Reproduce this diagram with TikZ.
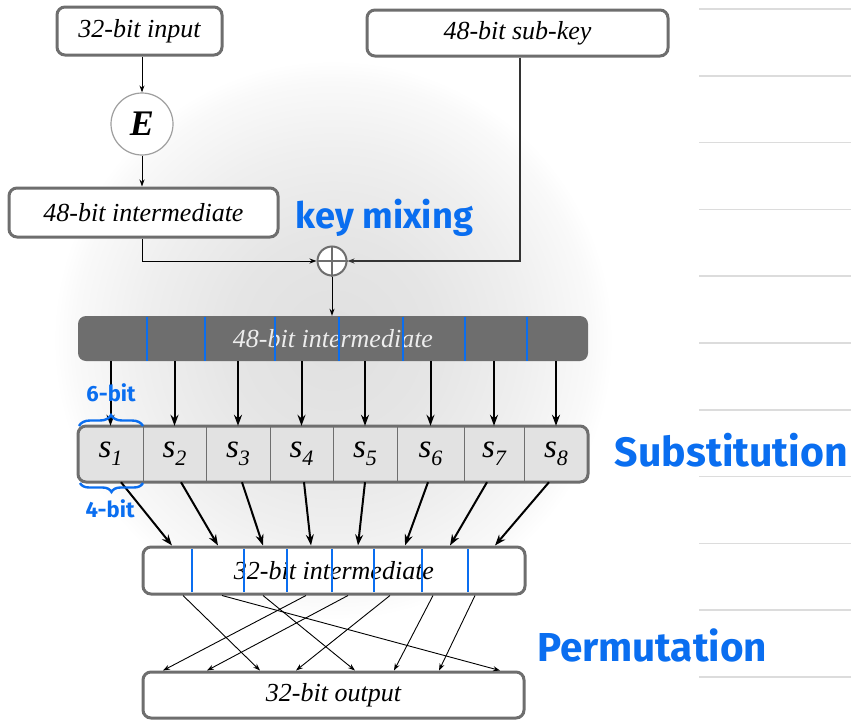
\documentclass[tikz,border=0pt]{standalone}
\usepackage{fontspec}
\setmainfont{Liberation Serif}
\newfontfamily\handfont{Fira Sans}
\usetikzlibrary{arrows.meta,decorations.pathreplacing,calc}
\definecolor{boxgray}{HTML}{6E6E6E}
\definecolor{annoblue}{RGB}{10,110,240}
\definecolor{rulegray}{HTML}{DCDCDC}
\definecolor{sfill}{HTML}{E2E2E2}
\definecolor{bga}{HTML}{E0E0E0}
\definecolor{bgb}{HTML}{E5E5E5}
\definecolor{bgc}{HTML}{EFEFEF}
\definecolor{bgd}{HTML}{F9F9F9}
\pgfdeclareradialshading{bgshade}{\pgfpoint{0bp}{0bp}}{color(0bp)=(bga); color(9bp)=(bgb); color(17bp)=(bgc); color(23bp)=(bgd); color(25bp)=(white); color(50bp)=(white)}
\newcommand\dboxfont{\fontsize{26}{30}\selectfont\itshape}
\newcommand\slabel[1]{{\fontsize{33}{33}\selectfont\itshape s}\raisebox{-8pt}{\fontsize{22}{22}\selectfont\itshape #1}}
\tikzset{
  box/.style={draw=boxgray, line width=3pt, rounded corners=8pt, fill=white, font=\dboxfont, inner sep=0pt},
  thinarrow/.style={-{Stealth[length=7pt,width=5pt]}, line width=1pt, black},
  thickarrow/.style={-{Stealth[length=11pt,width=8pt]}, line width=2pt, black},
  permarrow/.style={-{Stealth[length=7pt,width=5pt]}, line width=0.9pt, black},
  bluediv/.style={annoblue, line width=1.6pt},
  sdiv/.style={boxgray, line width=1pt},
  rulestyle/.style={rulegray, line width=1.5pt},
  annot/.style={annoblue, inner sep=0pt},
  cell/.style={minimum height=56pt, inner sep=0pt},
}
\begin{document}
\begin{tikzpicture}[x=1pt,y=-1pt]
\useasboundingbox (0,0) rectangle (851,720);
\fill[white] (0,0) rectangle (851,720);
\shade[shading=bgshade] (333,340) circle[radius=280pt];
% right rules
\foreach \k in {0,...,10}{
  \draw[rulestyle] (699,{9+66.8*\k}) -- (851,{9+66.8*\k});
}
% top boxes
\node[box, minimum width=165pt, minimum height=48pt] (in) at (139.5,31) {32-bit input};
\node[box, minimum width=301pt, minimum height=46pt] (key) at (517.5,33) {48-bit sub-key};
\node[circle, draw=gray!75, line width=1.2pt, fill=white, minimum size=62pt, inner sep=0pt,
      font=\fontsize{36}{36}\selectfont\bfseries\itshape] (E) at (142,124) {E};
\node[box, minimum width=269pt, minimum height=49pt] (i48) at (143.5,212.5) {48-bit intermediate};
\node[circle, draw=boxgray, line width=2pt, fill=white, minimum size=29pt, inner sep=0pt] (xor) at (332,261) {};
\draw[boxgray, line width=1.2pt] (xor.north) -- (xor.south) (xor.west) -- (xor.east);
% connectors top
\draw[thinarrow] (E.north |- in.south) -- (E.north);
\draw[thinarrow] (E.south) -- (E.south |- i48.north);
\draw[thinarrow] (E.south |- i48.south) |- (xor.west);
\draw[thinarrow, draw=gray!40!black, line width=1.5pt] ([xshift=2.5pt]key.south) |- (xor.east);
% dark bar
\node[rounded corners=8pt, fill=boxgray, minimum width=510pt, minimum height=45pt, inner sep=0pt,
      font=\dboxfont, text=white!93!black] (bar) at (333,338.5) {48-bit intermediate};
\draw[thinarrow] (xor.south) -- (xor.south |- bar.north);
\foreach \x in {147,205,275,339,403,465,527}{
  \draw[bluediv] (\x,316.5) -- (\x,360.5);
}
% S-box row
\node[draw=boxgray, line width=3pt, rounded corners=8pt, fill=sfill, minimum width=510pt, minimum height=56pt, inner sep=0pt] (srow) at (333,454) {};
\foreach \i/\c/\w in {1/110.5/65, 2/174.5/63, 3/238/64, 4/301.5/63, 5/365/64, 6/430.5/67, 7/494/60, 8/556/64}{
  \node[cell, minimum width=\w pt] (s\i) at (\c,454) {\slabel{\i}};
}
\foreach \i in {1,...,7}{
  \draw[sdiv] (s\i.north east) -- (s\i.south east);
}
\foreach \i in {1,...,8}{
  \draw[thickarrow] (s\i.north |- bar.south) -- (s\i.north);
}
% 32-bit intermediate
\node[box, minimum width=382pt, minimum height=47pt] (mid) at (334,570.5) {32-bit intermediate};
\foreach \x in {192,244,287,332,374,422,468}{
  \draw[bluediv] (\x,549) -- (\x,592);
}
\foreach \i/\a/\b in {1/10.5/-162, 2/6.5/-116, 3/4/-71, 4/2.5/-23, 5/0/24, 6/-2.5/71, 7/-7/116, 8/-7/161}{
  \draw[thickarrow] ([xshift=\a pt]s\i.south) -- ([xshift=\b pt]mid.north);
}
% output
\node[box, minimum width=381pt, minimum height=46pt] (out) at (333.5,695) {32-bit output};
\foreach \a/\b in {-151/-73.5, -112/166.5, -71/21.5, -28/-170.5, 14/-126.5, 56/-37.5, 99/60.5, 141/105.5}{
  \draw[permarrow] ([xshift=\a pt]mid.south) -- ([xshift=\b pt]out.north);
}
% annotations
\draw[annoblue, line width=2.4pt, decorate, decoration={brace, amplitude=11pt}] (79,426) -- (143,426);
\draw[annoblue, line width=2.4pt, decorate, decoration={brace, amplitude=9pt}] (143,483) -- (80,483);
\node[annot, font=\handfont\bfseries\fontsize{22}{22}\selectfont] (six) at (111,393) {6-bit};
\node[annot, font=\handfont\bfseries\fontsize{22}{22}\selectfont] (four) at (110,509) {4-bit};
\node[annot] (kmix) at (384.5,218) {\resizebox{177pt}{!}{\handfont\bfseries key mixing}};
\node[annot] (subst) at (731.5,450) {\resizebox{233pt}{!}{\handfont\bfseries Substitution}};
\node[annot] (perm) at (652,645) {\resizebox{230pt}{!}{\handfont\bfseries Permutation}};
\end{tikzpicture}
\end{document}
